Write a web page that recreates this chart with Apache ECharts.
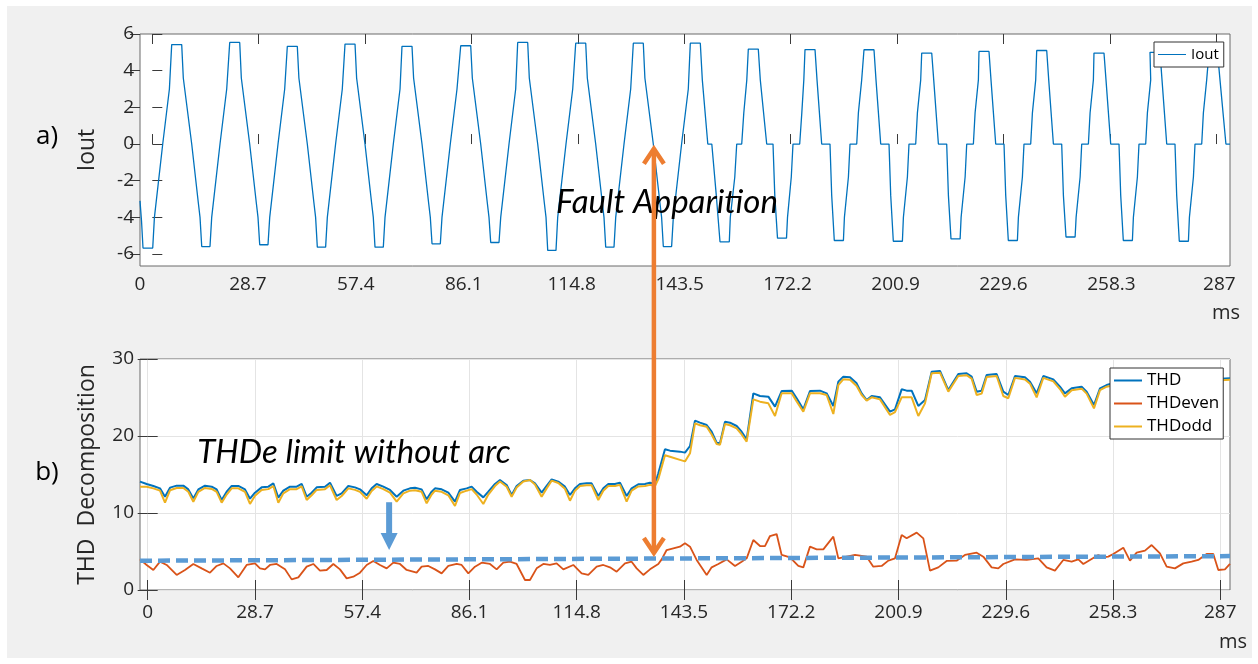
<!DOCTYPE html>
<html>
<head>
<meta charset="utf-8">
<title>Iout / THD decomposition</title>
<script src="https://cdn.jsdelivr.net/npm/echarts@6.0.0/dist/echarts.min.js"></script>
<style>
  html, body { margin: 0; padding: 0; background: #fff; }
  #chart { width: 1258px; height: 664px; }
</style>
</head>
<body>
<div id="chart"></div>
<script>
// output current (ms, A)
const ioutTime = [
  -3.32, -2.91, -2.51, 0.11, 0.57, 2.81, 4.61,
  5.23, 7.93, 8.36, 10.63, 12.41, 12.87, 13.33, 15.56, 16.02, 18.26, 20.07,
  20.88, 23.58, 24.01, 26.27, 28.05, 28.51, 28.97, 31.21, 31.67, 33.91, 35.71,
  36.42, 39.11, 39.54, 41.81, 43.59, 44.05, 44.51, 46.75, 47.21, 49.44, 51.25,
  51.98, 54.68, 55.11, 57.37, 59.15, 59.61, 60.07, 62.31, 62.77, 65.01, 66.82,
  67.35, 70.05, 70.48, 72.75, 74.53, 74.99, 75.45, 77.69, 78.14, 80.38, 82.19,
  83.19, 85.89, 86.32, 88.58, 90.36, 90.82, 91.28, 93.52, 93.98, 96.22, 98.02,
  98.56, 101.26, 101.69, 103.96, 105.74, 106.20, 106.66, 108.89, 109.35, 111.59, 113.40,
  114.21, 116.91, 117.34, 119.60, 121.38, 121.84, 122.30, 124.54, 125.00, 127.24, 129.04,
  129.75, 132.44, 132.87, 135.14, 136.92, 137.38, 137.84, 140.08, 140.54, 142.77, 144.58,
  145.12, 147.82, 148.36, 149.84, 150.92, 152.13, 153.13, 155.64, 155.91, 157.12, 157.64, 158.99, 159.55, 160.36,
  160.77, 163.46, 164.00, 165.73, 167.43, 167.91, 168.64, 171.07, 171.34, 172.36, 172.82, 174.63, 175.20, 175.74,
  176.06, 178.76, 179.30, 180.56, 182.80, 183.26, 183.96, 186.42, 186.69, 187.77, 188.20, 190.01, 190.46, 191.35,
  191.97, 194.67, 195.21, 196.48, 198.72, 199.18, 199.88, 202.33, 202.60, 203.68, 204.11, 205.92, 206.38, 207.27,
  207.54, 210.24, 210.78, 212.04, 214.28, 214.74, 215.44, 217.90, 218.17, 219.25, 219.68, 221.48, 221.94, 222.83,
  222.99, 225.69, 226.23, 227.50, 229.74, 230.20, 230.90, 233.35, 233.62, 234.70, 235.13, 236.94, 237.40, 238.29,
  238.56, 241.26, 241.80, 243.06, 245.30, 245.76, 246.46, 248.92, 249.19, 250.27, 250.70, 252.50, 252.96, 253.85,
  254.01, 256.71, 257.25, 258.52, 260.76, 261.22, 261.92, 264.37, 264.64, 265.72, 266.15, 267.96, 268.42, 269.31,
  269.12, 271.82, 272.36, 273.63, 275.86, 276.32, 277.02, 279.48, 279.75, 280.83, 281.26, 283.07, 283.52, 284.41,
  285.03, 287.33, 288.00, 289.60, 290.70
];
const iout = [
  -3.1, -4.2, -5.67, -5.67, -4.0, 0, 3.0,
  5.42, 5.42, 3.6, 0, -3.2, -4.0, -5.59, -5.59, -4.0, 0, 3.0,
  5.54, 5.54, 3.6, 0, -3.2, -4.0, -5.49, -5.49, -4.0, 0, 3.0,
  5.33, 5.33, 3.6, 0, -3.2, -4.0, -5.62, -5.62, -4.0, 0, 3.0,
  5.45, 5.45, 3.6, 0, -3.2, -4.0, -5.62, -5.62, -4.0, 0, 3.0,
  5.33, 5.33, 3.6, 0, -3.2, -4.0, -5.44, -5.44, -4.0, 0, 3.0,
  5.36, 5.36, 3.6, 0, -3.2, -4.0, -5.37, -5.37, -4.0, 0, 3.0,
  5.54, 5.54, 3.6, 0, -3.2, -4.0, -5.8, -5.8, -4.0, 0, 3.0,
  5.5, 5.5, 3.6, 0, -3.2, -4.0, -5.62, -5.62, -4.0, 0, 3.0,
  5.5, 5.5, 3.6, 0, -3.2, -4.0, -5.59, -5.59, -4.0, 0, 3.0,
  5.5, 5.5, 3.5, 0, 0, -2.8, -5.33, -5.33, -4.0, -1.8, 0, 0, 1.7, 3.5,
  5.18, 5.18, 3.5, 0, 0, -2.8, -5.13, -5.13, -4.0, -1.8, 0, 0, 1.7, 3.5,
  5.15, 5.15, 3.5, 0, 0, -2.8, -5.26, -5.26, -4.0, -1.8, 0, 0, 1.7, 3.5,
  5.14, 5.14, 3.5, 0, 0, -2.8, -5.3, -5.3, -4.0, -1.8, 0, 0, 1.7, 3.5,
  4.96, 4.96, 3.5, 0, 0, -2.8, -5.17, -5.17, -4.0, -1.8, 0, 0, 1.7, 3.5,
  5.05, 5.05, 3.5, 0, 0, -2.8, -5.26, -5.26, -4.0, -1.8, 0, 0, 1.7, 3.5,
  5.1, 5.1, 3.5, 0, 0, -2.8, -5.07, -5.07, -4.0, -1.8, 0, 0, 1.7, 3.5,
  4.96, 4.96, 3.5, 0, 0, -2.8, -5.26, -5.26, -4.0, -1.8, 0, 0, 1.7, 3.5,
  5.0, 5.0, 3.5, 0, 0, -2.8, -5.3, -5.3, -4.0, -1.8, 0, 0, 1.7, 3.5,
  5.0, 5.0, 3.5, 0, 0
];

// THD and odd part share the same time points (ms, %)
const thdTime = [
  -2.06, -0.28, 1.51, 3.29, 4.63, 5.97, 7.75, 9.54, 10.87, 12.21,
  13.55, 15.33, 17.12, 18.45, 19.79, 21.13, 22.47, 24.25, 26.03, 27.37,
  28.71, 30.49, 32.28, 33.62, 34.95, 36.29, 38.08, 39.86, 41.20, 42.54,
  43.87, 45.21, 47.44, 48.78, 50.56, 51.90, 53.68, 55.47, 56.81, 58.59,
  59.93, 61.26, 63.05, 64.83, 66.62, 68.40, 70.18, 71.52, 73.30, 74.64,
  75.98, 76.87, 78.65, 80.44, 82.22, 83.56, 85.34, 86.68, 88.02, 89.80,
  91.14, 92.92, 94.26, 96.05, 97.38, 98.72, 100.50, 102.29, 103.63, 105.41,
  106.75, 108.09, 109.87, 111.65, 112.99, 114.33, 115.67, 117.45, 118.79, 120.57,
  121.91, 123.25, 125.03, 126.37, 128.15, 129.49, 131.27, 133.06, 134.40, 135.74,
  136.63, 138.41, 139.75, 142.42, 143.77, 145.11, 146.44, 147.78, 149.57, 150.90,
  152.24, 153.13, 154.47, 155.81, 157.59, 158.93, 160.27, 162.05, 163.84, 166.07,
  167.85, 169.63, 172.31, 173.65, 175.43, 177.21, 179.89, 181.67, 183.46, 184.80,
  186.13, 187.92, 189.70, 191.04, 192.38, 193.71, 195.94, 198.62, 199.96, 201.74,
  203.08, 204.42, 206.20, 207.99, 209.77, 212.00, 214.23, 216.90, 219.13, 220.47,
  221.81, 223.14, 224.48, 227.16, 228.94, 230.28, 232.06, 234.74, 236.08, 237.86,
  239.64, 242.32, 244.10, 245.44, 247.23, 249.90, 251.24, 253.20, 254.81, 256.59,
  258.50, 261.00, 262.50, 266.00, 268.80, 270.30, 274.00, 276.60, 278.20, 282.00,
  284.40, 286.00, 289.60
];
const thd = [
  14.07, 13.77, 13.51, 13.20, 12.12, 13.29, 13.55, 13.55, 13.07, 11.90,
  13.07, 13.55, 13.42, 13.07, 11.69, 12.77, 13.51, 13.51, 13.07, 11.86,
  12.64, 13.33, 13.42, 13.85, 11.99, 12.90, 13.42, 13.42, 13.77, 12.12,
  12.64, 13.33, 13.42, 13.94, 12.21, 12.55, 13.51, 13.33, 13.07, 12.29,
  13.20, 13.77, 13.42, 12.99, 12.12, 12.90, 13.20, 13.29, 13.07, 11.78,
  12.77, 13.20, 13.07, 12.64, 11.47, 12.99, 13.20, 13.42, 12.77, 12.03,
  12.77, 13.77, 14.29, 13.64, 12.34, 13.51, 14.20, 14.29, 13.85, 12.64,
  13.51, 14.37, 14.07, 13.42, 12.34, 13.20, 13.77, 13.85, 13.85, 12.21,
  13.20, 13.77, 13.77, 13.94, 12.21, 13.20, 13.72, 13.77, 13.94, 13.77,
  15.15, 18.27, 18.10, 17.97, 17.84, 18.70, 21.99, 21.73, 21.43, 20.56,
  19.13, 19.05, 21.86, 21.73, 21.30, 20.56, 19.57, 25.54, 25.19, 25.11,
  23.81, 25.84, 25.89, 24.89, 23.46, 25.84, 25.89, 25.54, 23.90, 27.06,
  27.71, 27.62, 26.84, 25.54, 24.67, 25.19, 25.02, 23.16, 23.46, 26.06,
  25.89, 25.89, 23.90, 24.67, 28.35, 28.44, 25.97, 28.05, 28.14, 27.71,
  25.76, 25.89, 27.92, 28.05, 25.76, 25.32, 27.79, 27.62, 27.06, 25.54,
  27.79, 27.36, 26.41, 25.54, 26.19, 26.41, 25.76, 24.03, 26.19, 26.62,
  26.90, 25.40, 27.20, 27.40, 25.70, 27.50, 27.60, 26.00, 27.60, 27.70,
  26.10, 27.40, 27.50
];
const thdOdd = [
  13.42, 13.40, 13.20, 12.90, 11.34, 12.95, 13.25, 13.25, 12.75, 11.47,
  12.75, 13.25, 13.12, 12.75, 11.34, 12.40, 13.20, 13.20, 12.75, 11.17,
  12.25, 13.00, 13.10, 13.50, 11.34, 12.55, 13.10, 13.10, 13.45, 11.69,
  12.30, 13.00, 13.10, 13.60, 11.69, 12.20, 13.20, 13.00, 12.75, 11.85,
  12.85, 13.45, 13.10, 12.65, 11.47, 12.55, 12.90, 12.95, 12.75, 11.26,
  12.40, 12.90, 12.75, 12.30, 10.91, 12.60, 12.90, 13.10, 12.40, 11.17,
  12.40, 13.50, 14.10, 13.40, 12.12, 13.30, 14.10, 14.29, 13.70, 12.12,
  13.20, 14.20, 13.90, 13.15, 11.60, 12.90, 13.50, 13.60, 13.60, 11.69,
  12.90, 13.50, 13.50, 13.65, 11.47, 12.90, 13.45, 13.50, 13.65, 13.50,
  14.40, 17.50, 17.30, 16.90, 16.70, 17.75, 21.64, 21.40, 21.20, 20.20,
  18.96, 18.85, 21.56, 21.40, 21.00, 20.20, 19.26, 24.76, 24.46, 24.24,
  22.60, 25.54, 25.54, 24.50, 23.16, 25.54, 25.54, 25.32, 22.86, 26.62,
  27.36, 27.30, 26.50, 25.32, 24.59, 25.02, 24.76, 22.73, 23.10, 25.02,
  25.02, 25.02, 22.60, 24.24, 28.14, 28.22, 25.76, 27.80, 27.90, 27.45,
  25.32, 25.50, 27.65, 27.80, 25.19, 24.90, 27.55, 27.35, 26.80, 25.02,
  27.55, 27.10, 26.10, 25.10, 25.95, 26.15, 25.50, 23.59, 25.95, 26.40,
  26.60, 24.90, 26.80, 27.00, 25.20, 27.10, 27.20, 25.50, 27.30, 27.40,
  25.70, 27.20, 27.30
];

// even part (ms, %)
const evenTime = [
  -2.06, -0.28, 1.51, 3.29, 5.08, 7.75, 9.98, 12.21, 14.44, 16.67,
  18.45, 20.24, 22.02, 24.25, 26.48, 28.71, 30.05, 31.39, 32.72, 34.51,
  36.74, 38.52, 40.31, 42.54, 44.32, 46.10, 47.89, 49.67, 51.45, 53.24,
  55.02, 56.81, 58.59, 60.37, 62.16, 63.94, 65.72, 67.51, 69.29, 71.96,
  73.30, 75.09, 76.87, 78.65, 80.44, 82.67, 84.00, 85.79, 87.57, 89.36,
  91.59, 93.37, 95.15, 96.94, 98.72, 100.95, 102.29, 104.07, 105.86, 107.64,
  109.42, 111.21, 113.88, 116.11, 117.90, 120.13, 121.91, 123.69, 125.48, 127.71,
  129.49, 130.83, 132.61, 134.40, 136.63, 137.52, 138.86, 140.64, 142.42, 143.77,
  145.11, 146.89, 149.57, 150.90, 152.69, 154.92, 157.15, 158.93, 160.27, 162.05,
  163.84, 165.17, 166.51, 168.29, 169.63, 171.86, 174.09, 175.43, 177.21, 179.00,
  180.78, 183.46, 184.80, 187.03, 189.26, 192.38, 194.16, 196.39, 198.17, 199.96,
  201.74, 203.08, 205.76, 207.54, 209.32, 211.55, 213.78, 216.45, 218.68, 221.81,
  223.59, 225.82, 227.60, 228.94, 232.06, 235.19, 238.30, 240.53, 242.76, 244.99,
  247.23, 249.01, 250.35, 252.13, 254.36, 255.70, 257.03, 258.37, 261.05, 262.83,
  264.62, 266.85, 268.63, 270.86, 272.65, 274.87, 277.10, 279.33, 281.11, 283.34,
  285.13, 286.47, 288.25, 289.59
];
const thdEven = [
  3.98, 3.25, 2.60, 3.68, 3.25, 1.95, 2.60, 3.38, 2.81, 2.25,
  3.12, 3.46, 2.81, 1.64, 3.25, 3.46, 2.81, 2.68, 3.25, 3.38,
  2.68, 1.38, 1.64, 3.03, 3.38, 2.51, 2.60, 3.38, 2.68, 1.51,
  1.73, 2.25, 3.25, 3.77, 3.25, 2.81, 3.55, 3.38, 2.60, 2.25,
  3.03, 3.12, 2.68, 2.16, 3.12, 3.38, 3.25, 2.16, 3.03, 3.55,
  3.38, 2.68, 3.55, 3.68, 3.38, 1.30, 1.30, 2.81, 3.38, 3.25,
  3.46, 2.68, 3.25, 2.16, 1.95, 3.03, 3.25, 2.94, 2.38, 3.46,
  3.68, 2.81, 1.95, 2.68, 3.38, 3.98, 5.19, 5.41, 5.63, 6.06,
  5.63, 3.90, 1.95, 2.94, 3.38, 3.98, 3.12, 3.68, 4.11, 6.49,
  5.71, 5.71, 7.01, 7.27, 4.55, 4.24, 3.12, 2.94, 5.63, 5.28,
  5.28, 6.93, 4.11, 4.33, 4.55, 4.33, 3.03, 3.12, 3.81, 4.11,
  7.14, 6.71, 7.45, 6.71, 2.51, 2.94, 3.77, 3.81, 4.55, 4.85,
  4.33, 2.94, 2.81, 3.38, 3.98, 3.90, 4.11, 2.94, 2.51, 3.90,
  3.68, 3.98, 3.38, 3.90, 4.55, 4.24, 4.33, 4.68, 5.50, 3.81,
  4.85, 5.11, 5.84, 4.76, 3.03, 2.81, 3.46, 3.68, 3.90, 4.68,
  4.68, 2.60, 2.68, 3.38
];

// dashed THDe limit (start and end)
const limitTime = [-2.06, 289.6];
const limitValue = [3.8, 4.4];

// tick values
const msTicks = [0, 28.7, 57.4, 86.1, 114.8, 143.5, 172.2, 200.9, 229.6, 258.3, 287];
const ioutTicks = [-6, -4, -2, 0, 2, 4, 6];

// annotation anchors (data coordinates)
const faultTime = 135.3;
const faultTopValue = -0.15;
const faultBottomValue = 4.55;
const limitArrowTime = 64.6;
const limitArrowFrom = 11.4;
const limitArrowTo = 5.2;

const pairs = (xs, ys) => xs.map((x, i) => [x, ys[i]]);

const font = 'Open Sans';
const labelColor = '#262626';
const tickColor = '#3a3a3a';

const chart = echarts.init(document.getElementById('chart'));

chart.setOption({
  animation: false,
  grid: [
    { left: 140, top: 34, width: 1090, height: 232, show: true, backgroundColor: '#fff', borderColor: '#6a6a6a', borderWidth: 1, outerBoundsMode: 'none' },
    { left: 140, top: 359, width: 1090, height: 231, show: true, backgroundColor: '#fff', borderColor: '#6a6a6a', borderWidth: 1, outerBoundsMode: 'none' }
  ],
  legend: [
    {
      data: ['Iout'], left: 1154, top: 42, orient: 'vertical', selectedMode: false,
      icon: 'rect', itemWidth: 28, itemHeight: 1, itemGap: 4, padding: [5, 5, 5, 4],
      backgroundColor: '#fff', borderColor: '#333', borderWidth: 1, borderRadius: 0,
      textStyle: { fontFamily: font, fontSize: 15, color: '#000' }
    },
    {
      data: ['THD', 'THDeven', 'THDodd'], left: 1110, top: 368, orient: 'vertical', selectedMode: false,
      icon: 'rect', itemWidth: 28, itemHeight: 2, itemGap: 6, padding: [4, 4, 4, 4],
      backgroundColor: '#fff', borderColor: '#333', borderWidth: 1, borderRadius: 0,
      textStyle: { fontFamily: font, fontSize: 17, color: '#000' }
    }
  ],
  xAxis: [
    {
      // upper plot, ticks
      type: 'value', gridIndex: 0, min: -3.32, max: 290.7, position: 'bottom',
      axisLine: { show: false },
      axisTick: { inside: true, length: 10, customValues: msTicks, lineStyle: { color: tickColor } },
      axisLabel: { show: false },
      splitLine: { show: false }
    },
    {
      // upper plot, tick labels (they sit a little off the ticks in the original)
      type: 'value', gridIndex: 0, min: 0, max: 289.84, position: 'bottom',
      axisLine: { show: false },
      axisTick: { show: false },
      axisLabel: { customValues: msTicks, margin: 9, fontFamily: font, fontSize: 19, color: labelColor },
      splitLine: { show: false }
    },
    {
      type: 'value', gridIndex: 0, min: -3.32, max: 290.7, position: 'top',
      axisLine: { show: false },
      axisTick: { inside: true, length: 10, customValues: msTicks, lineStyle: { color: tickColor } },
      axisLabel: { show: false },
      splitLine: { show: false }
    },
    {
      // lower plot
      type: 'value', gridIndex: 1, min: -2.06, max: 289.6, position: 'bottom',
      axisLine: { show: false },
      axisTick: { inside: true, length: 10, customValues: msTicks, lineStyle: { color: tickColor } },
      axisLabel: { customValues: msTicks, margin: 13, fontFamily: font, fontSize: 19, color: labelColor },
      splitLine: { show: true, lineStyle: { color: '#e4e4e4', width: 1 } }
    },
    {
      type: 'value', gridIndex: 1, min: -2.06, max: 289.6, position: 'top',
      axisLine: { show: false },
      axisTick: { inside: true, length: 10, customValues: msTicks, lineStyle: { color: tickColor } },
      axisLabel: { show: false },
      splitLine: { show: false }
    }
  ],
  yAxis: [
    {
      type: 'value', gridIndex: 0, min: -6.65, max: 6, position: 'left',
      name: 'Iout', nameLocation: 'middle', nameGap: 41,
      nameTextStyle: { fontFamily: font, fontSize: 23, color: labelColor },
      axisLine: { show: false },
      axisTick: { inside: true, length: 10, customValues: ioutTicks, lineStyle: { color: tickColor } },
      axisLabel: { customValues: ioutTicks, margin: 6, fontFamily: font, fontSize: 19, color: labelColor },
      splitLine: { show: false }
    },
    {
      type: 'value', gridIndex: 0, min: -6.65, max: 6, position: 'right',
      axisLine: { show: false },
      axisTick: { inside: true, length: 10, customValues: ioutTicks, lineStyle: { color: tickColor } },
      axisLabel: { show: false },
      splitLine: { show: false }
    },
    {
      type: 'value', gridIndex: 1, min: 0, max: 30, interval: 10, position: 'left',
      name: 'THD  Decomposition', nameLocation: 'middle', nameGap: 41,
      nameTextStyle: { fontFamily: font, fontSize: 23, color: labelColor },
      axisLine: { show: false },
      axisTick: { inside: true, length: 10, lineStyle: { color: tickColor } },
      axisLabel: { margin: 6, fontFamily: font, fontSize: 19, color: labelColor },
      splitLine: { show: true, lineStyle: { color: '#e4e4e4', width: 1 } }
    },
    {
      type: 'value', gridIndex: 1, min: 0, max: 30, interval: 10, position: 'right',
      axisLine: { show: false },
      axisTick: { inside: true, length: 10, lineStyle: { color: tickColor } },
      axisLabel: { show: false },
      splitLine: { show: false }
    }
  ],
  series: [
    {
      name: 'Iout', type: 'line', xAxisIndex: 0, yAxisIndex: 0,
      data: pairs(ioutTime, iout), showSymbol: false, symbol: 'none',
      color: '#0072BD', lineStyle: { width: 1.3, color: '#0072BD' }
    },
    {
      name: 'THD', type: 'line', xAxisIndex: 3, yAxisIndex: 2,
      data: pairs(thdTime, thd), showSymbol: false, symbol: 'none',
      color: '#0072BD', lineStyle: { width: 2, color: '#0072BD' }
    },
    {
      name: 'THDeven', type: 'line', xAxisIndex: 3, yAxisIndex: 2,
      data: pairs(evenTime, thdEven), showSymbol: false, symbol: 'none',
      color: '#D95319', lineStyle: { width: 1.8, color: '#D95319' }
    },
    {
      name: 'THDodd', type: 'line', xAxisIndex: 3, yAxisIndex: 2,
      data: pairs(thdTime, thdOdd), showSymbol: false, symbol: 'none',
      color: '#EDB120', lineStyle: { width: 2, color: '#EDB120' }
    },
    {
      name: 'limit', type: 'line', xAxisIndex: 3, yAxisIndex: 2, z: 5,
      data: pairs(limitTime, limitValue), showSymbol: false, symbol: 'none',
      color: '#5B9BD5', lineStyle: { width: 4.5, color: '#5B9BD5', type: [12, 6] }
    }
  ]
});

// annotations: background panel, panel letters, texts and arrows
const top0 = chart.convertToPixel({ xAxisIndex: 0, yAxisIndex: 0 }, [faultTime, faultTopValue]);
const bot0 = chart.convertToPixel({ xAxisIndex: 3, yAxisIndex: 2 }, [faultTime, faultBottomValue]);
const fx = top0[0];
const la = chart.convertToPixel({ xAxisIndex: 3, yAxisIndex: 2 }, [limitArrowTime, limitArrowFrom]);
const lb = chart.convertToPixel({ xAxisIndex: 3, yAxisIndex: 2 }, [limitArrowTime, limitArrowTo]);

const orange = '#ED7D31';
const blue = '#5B9BD5';

const textEl = (x, y, text, size, extra) => ({
  type: 'text', x: x, y: y, z: 100,
  style: Object.assign({ text: text, fontFamily: font, fontSize: size, fill: '#000', align: 'center', verticalAlign: 'middle' }, extra || {})
});

chart.setOption({
  graphic: [
    { type: 'rect', z: -100, silent: true, shape: { x: 7, y: 6, width: 1245, height: 652 }, style: { fill: '#f0f0f0' } },
    textEl(47, 137, 'a)', 26),
    textEl(47, 473, 'b)', 26),
    textEl(1226, 313, 'ms', 20, { fill: labelColor }),
    textEl(1233, 642, 'ms', 20, { fill: labelColor }),
    textEl(667, 202, 'Fault Apparition', 33, { fontFamily: 'Lato', fontStyle: 'italic' }),
    textEl(354, 452, 'THDe limit without arc', 33, { fontFamily: 'Lato', fontStyle: 'italic' }),
    {
      type: 'line', z: 100, shape: { x1: fx, y1: top0[1] + 2, x2: fx, y2: bot0[1] - 2 },
      style: { stroke: orange, lineWidth: 4.5 }
    },
    {
      type: 'polyline', z: 100, shape: { points: [[fx - 10, top0[1] + 17], [fx, top0[1] + 2], [fx + 10, top0[1] + 17]] },
      style: { stroke: orange, lineWidth: 4.5, fill: null }
    },
    {
      type: 'polyline', z: 100, shape: { points: [[fx - 10, bot0[1] - 17], [fx, bot0[1] - 2], [fx + 10, bot0[1] - 17]] },
      style: { stroke: orange, lineWidth: 4.5, fill: null }
    },
    {
      type: 'line', z: 100, shape: { x1: la[0], y1: la[1], x2: la[0], y2: lb[1] - 15 },
      style: { stroke: blue, lineWidth: 6 }
    },
    {
      type: 'polygon', z: 100, shape: { points: [[lb[0] - 8.5, lb[1] - 17], [lb[0] + 8.5, lb[1] - 17], [lb[0], lb[1]]] },
      style: { fill: blue }
    }
  ]
});
</script>
</body>
</html>
